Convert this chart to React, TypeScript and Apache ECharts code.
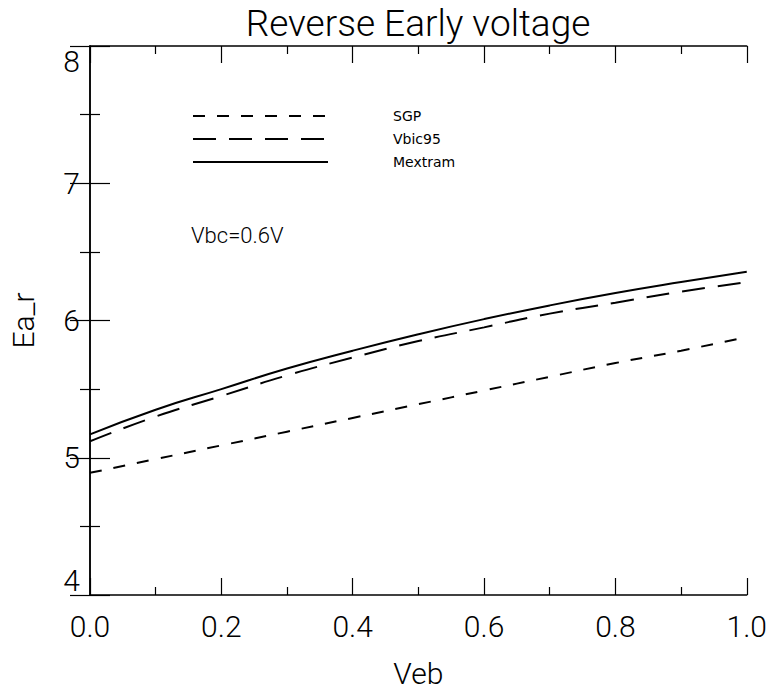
import React, { useEffect, useRef } from "react";
import * as echarts from "echarts";

const veb = [0.0, 0.1, 0.2, 0.3, 0.4, 0.5, 0.6, 0.7, 0.8, 0.9, 1.0];
const sgp = [4.89, 4.99, 5.09, 5.19, 5.29, 5.39, 5.49, 5.59, 5.69, 5.78, 5.88];
const vbic95 = [5.12, 5.3, 5.45, 5.6, 5.73, 5.85, 5.95, 6.05, 6.13, 6.21, 6.28];
const mextram = [5.17, 5.35, 5.5, 5.65, 5.78, 5.9, 6.01, 6.11, 6.2, 6.28, 6.355];
const seriesNames = ["SGP", "Vbic95", "Mextram"];
const titleText = "Reverse Early voltage";
const xName = "Veb";
const yName = "Ea_r";
const annotation = "Vbc=0.6V";

const FONT = "Roboto";

export default function App() {
  const ref = useRef<HTMLDivElement>(null);
  useEffect(() => {
    if (!ref.current) return;
    const chart = echarts.init(ref.current, undefined, { renderer: "svg" });
    const pairs = (ys: number[]) => veb.map((x, i) => [x, ys[i]]);
    const baseX = {
      type: "value",
      min: 0,
      max: 1,
      interval: 0.2,
      splitLine: { show: false },
      axisLine: { show: true, lineStyle: { color: "#000", width: 1.5 } },
      axisTick: { show: true, inside: true, length: 17, lineStyle: { color: "#000", width: 1.2 } },
      minorTick: { show: true, splitNumber: 2, length: 8, lineStyle: { color: "#000", width: 1.2 } },
    };
    const baseY = {
      type: "value",
      min: 4,
      max: 8,
      interval: 1,
      splitLine: { show: false },
      axisLine: { show: true, lineStyle: { color: "#000", width: 1.5 } },
      axisTick: { show: true, inside: true, length: 20, lineStyle: { color: "#000", width: 1.2 } },
      minorTick: { show: true, splitNumber: 2, length: 10, lineStyle: { color: "#000", width: 1.2 } },
    };
    const labelStyle = { color: "#000", fontFamily: FONT, fontWeight: 300, fontSize: 30 };
    const dashes: any[] = [[12, 12], [23, 13], "solid"];
    const data = [sgp, vbic95, mextram];
    const legendY = [116, 139, 162];
    const graphics: any[] = [];
    seriesNames.forEach((n, i) => {
      graphics.push({
        type: "line",
        shape: { x1: 193, y1: legendY[i], x2: 328, y2: legendY[i] },
        style: { stroke: "#000", lineWidth: 2, lineDash: i === 2 ? null : dashes[i] },
      });
      graphics.push({
        type: "text",
        x: 393,
        y: legendY[i],
        style: { text: n, fill: "#000", font: "14px 'DejaVu Sans'", verticalAlign: "middle" },
      });
    });
    graphics.push({
      type: "text",
      x: 191,
      y: 235,
      style: { text: annotation, fill: "#000", font: `300 22px ${FONT}`, verticalAlign: "middle" },
    });
    chart.setOption({
      animation: false,
      backgroundColor: "#fff",
      title: {
        text: titleText,
        left: 413,
        textAlign: "center",
        top: 0,
        textStyle: { color: "#000", fontFamily: FONT, fontWeight: 300, fontSize: 37 },
      },
      grid: { left: 77, right: 21, top: 46, bottom: 82, containLabel: false },
      xAxis: [
        {
          ...baseX,
          position: "bottom",
          name: xName,
          nameLocation: "middle",
          nameGap: 63,
          nameTextStyle: labelStyle,
          axisLabel: { ...labelStyle, margin: 16, formatter: (v: number) => v.toFixed(1) },
        },
        { ...baseX, position: "top", axisLabel: { show: false } },
      ],
      yAxis: [
        {
          ...baseY,
          position: "left",
          name: yName,
          nameLocation: "middle",
          nameGap: 52,
          nameTextStyle: labelStyle,
          axisLabel: {
            ...labelStyle,
            margin: 10,
            verticalAlignMinLabel: "bottom",
            verticalAlignMaxLabel: "top",
          },
        },
        { ...baseY, position: "right", axisLabel: { show: false } },
      ],
      series: seriesNames.map((n, i) => ({
        name: n,
        type: "line",
        xAxisIndex: 0,
        yAxisIndex: 0,
        data: pairs(data[i]),
        symbol: "none",
        smooth: true,
        lineStyle: { color: "#000", width: 2, type: dashes[i] },
      })),
      graphic: graphics,
    });
    return () => chart.dispose();
  }, []);
  return <div ref={ref} style={{ width: 770, height: 693, position: "absolute", left: 0, top: 0 }} />;
}
